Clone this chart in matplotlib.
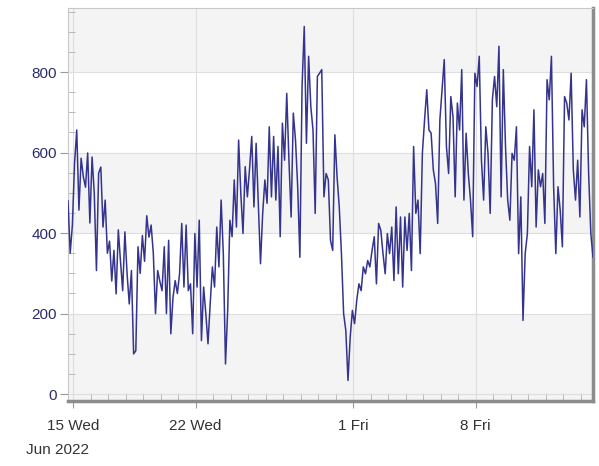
import pandas as pd
import matplotlib
matplotlib.use('Agg')
import matplotlib.pyplot as plt
import matplotlib.dates as mdates
from matplotlib.ticker import MultipleLocator

plt.rcParams['font.family'] = ['Liberation Sans', 'DejaVu Sans']

# 3-hourly readings, one row per day
start = '2022-06-14 17:00'
values = [
    480, 350, 420, 574, 656, 457, 586, 540,
    514, 599, 425, 589, 500, 307, 549, 564,
    415, 482, 350, 380, 281, 357, 249, 408,
    330, 257, 403, 300, 224, 307, 100, 108,
    366, 300, 394, 330, 443, 390, 420, 350,
    200, 307, 280, 257, 366, 200, 382, 150,
    240, 282, 250, 299, 424, 266, 420, 257,
    274, 150, 399, 266, 432, 133, 266, 200,
    125, 224, 316, 266, 415, 316, 482, 349,
    75, 208, 432, 391, 532, 415, 631, 498,
    399, 565, 490, 560, 640, 465, 623, 474,
    324, 449, 532, 474, 664, 490, 640, 482,
    615, 391, 673, 581, 747, 581, 440, 698,
    631, 515, 340, 764, 913, 623, 839, 714,
    656, 449, 789, 797, 806, 490, 548, 532,
    382, 357, 644, 540, 465, 349, 200, 158,
    34, 141, 208, 175, 233, 274, 257, 316,
    299, 332, 316, 357, 391, 274, 424, 407,
    349, 299, 399, 349, 415, 282, 465, 299,
    440, 266, 440, 357, 449, 307, 615, 449,
    482, 349, 598, 681, 756, 656, 648, 557,
    523, 424, 681, 756, 831, 615, 548, 739,
    689, 490, 723, 656, 806, 482, 648, 548,
    482, 391, 797, 764, 839, 581, 482, 664,
    598, 449, 731, 789, 714, 864, 490, 806,
    615, 482, 432, 598, 581, 664, 349, 490,
    183, 349, 399, 615, 515, 706, 415, 557,
    515, 548, 424, 781, 731, 839, 515, 349,
    515, 457, 366, 739, 723, 681, 797, 557,
    482, 581, 440, 706, 664, 781, 548, 399,
    340,
]
times = pd.date_range(start, periods=len(values), freq='3h')

tick_days = pd.to_datetime(['2022-06-15', '2022-06-22', '2022-07-01', '2022-07-08'])
tick_text = ['15 Wed', '22 Wed', '1 Fri', '8 Fri']
y_ticks = [0, 200, 400, 600, 800]

fig = plt.figure(figsize=(5.99, 4.66), dpi=100)
ax = fig.add_axes([68 / 599, 1 - 401 / 466, 525 / 599, 393 / 466])

ymin, ymax = -17, 959
# alternating horizontal bands
ax.axhspan(ymin, 0, color='#f4f4f4', lw=0, zorder=0)
for lo in range(0, 1000, 400):
    ax.axhspan(lo, lo + 200, color='#f4f4f4', lw=0, zorder=0)

ax.plot(times, values, color='#34348e', lw=1.1, zorder=3)

ax.set_xlim(pd.Timestamp('2022-06-14 17:00'), pd.Timestamp('2022-07-14 17:00'))
ax.set_ylim(ymin, ymax)

ax.set_xticks(tick_days, tick_text)
ax.xaxis.set_minor_locator(mdates.DayLocator())
ax.set_yticks(y_ticks)
ax.yaxis.set_minor_locator(MultipleLocator(50))

ax.grid(which='major', color='#dedede', lw=0.8, zorder=1)
ax.set_axisbelow(True)

ax.tick_params(axis='y', which='major', direction='out', length=6, width=0.8,
               color='#999999', labelcolor='#2c2c6c', labelsize=11, pad=2)
ax.tick_params(axis='y', which='minor', direction='in', length=5, width=0.6,
               color='#b0b0b0')
ax.tick_params(axis='x', which='major', direction='out', length=5, width=0.8,
               color='#999999', labelcolor='#333333', labelsize=11, pad=8)
ax.tick_params(axis='x', which='minor', direction='in', length=6, width=0.6,
               color='#b0b0b0')

for side in ('left', 'top'):
    ax.spines[side].set_color('#c8c8c8')
    ax.spines[side].set_linewidth(0.8)
for side in ('bottom', 'right'):
    ax.spines[side].set_color('#8c8c8c')
    ax.spines[side].set_linewidth(2.5)

fig.text(26 / 599, 1 - 450 / 466, 'Jun 2022', ha='left', va='center',
         fontsize=11, color='#333333')

fig.savefig('out.png', dpi=100)
